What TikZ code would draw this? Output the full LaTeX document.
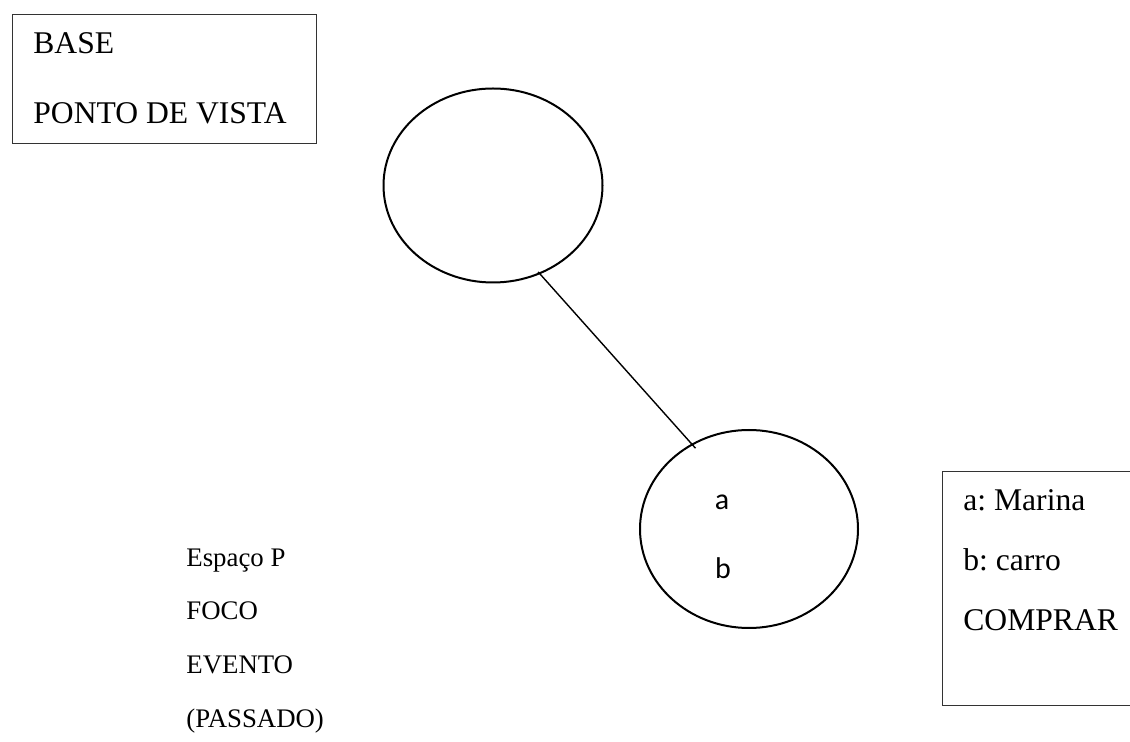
\documentclass[tikz,border=0pt]{standalone}
\usepackage{fontspec}
\setmainfont{Liberation Serif}
\newfontfamily\calib{Carlito}
\usetikzlibrary{shapes.geometric}
\frenchspacing

\tikzset{
  frame/.style={draw=black!80,line width=0.7pt,anchor=north west,inner sep=0pt},
  space/.style={draw,ellipse,line width=1pt,inner sep=0pt},
  boxtext/.style={anchor=base west,inner sep=0pt,font=\fontsize{15.8}{19}\selectfont},
  note/.style={anchor=base west,inner sep=0pt,font=\fontsize{13.4}{16}\selectfont},
  elem/.style={inner sep=0pt,font=\calib\fontsize{15}{18}\selectfont}
}

\begin{document}
\begin{tikzpicture}[x=0.5pt,y=-0.5pt]
    \clip (0,0) rectangle (1130,742);
    % base box, top left
    \node[frame,minimum width=152pt,minimum height=64.5pt] (basebox) at (12,14) {};
    \node[boxtext] (base) at (33,54) {BASE};
    \node[boxtext] (vista) at (33,124) {PONTO DE VISTA};
    % the two spaces
    \node[space,minimum width=109.5pt,minimum height=97pt] (top) at (493,185.5) {};
    \node[space,minimum width=109pt,minimum height=99pt] (foco) at (749,529) {};
    \node[elem] (a) at (722,502) {a};
    \node[elem] (b) at (723,568) {b};
    \draw[line width=0.7pt,shorten <=-1.5pt,shorten >=-3pt] (top.-62) -- (foco.124);
    % labels of space P
    \node[note] (espaco) at (186,567) {Espaço P};
    \node[note] (focus) at (186,620) {FOCO};
    \node[note] (evento) at (186,674) {EVENTO};
    \node[note] (passado) at (186,727) {(PASSADO)};
    % box on the right, runs off the edge
    \node[frame,minimum width=100pt,minimum height=117pt] (info) at (942,471) {};
    \node[boxtext] (ma) at (963,511) {a: Marina};
    \node[boxtext] (mb) at (963,571) {b: carro};
    \node[boxtext] (comprar) at (963,631) {COMPRAR};
\end{tikzpicture}
\end{document}
